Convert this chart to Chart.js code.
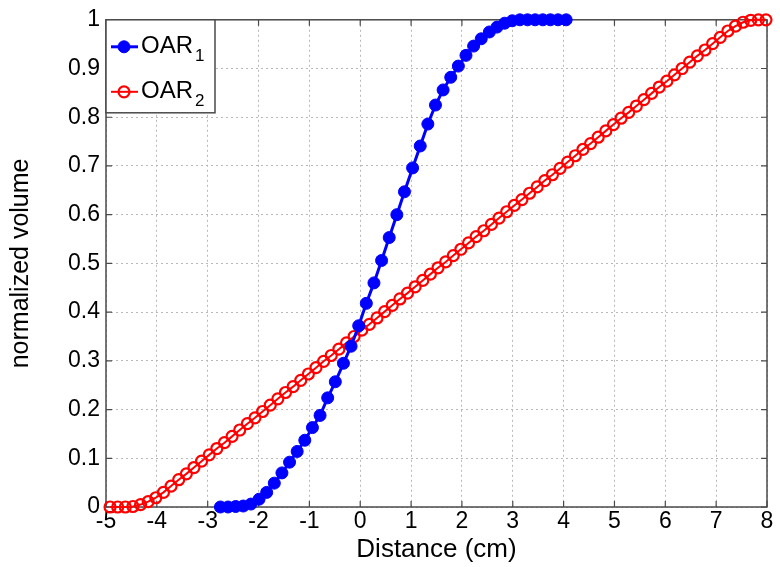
<!DOCTYPE html>
<html>
<head>
<meta charset="utf-8">
<script src="https://cdn.jsdelivr.net/npm/chart.js@4.4.1/dist/chart.umd.min.js"></script>
<style>
  html, body { margin: 0; padding: 0; background: #fff; }
</style>
</head>
<body>
<canvas id="myChart" width="780" height="567"></canvas>
<script>
// tick positions
var xTicks = [-5, -4, -3, -2, -1, 0, 1, 2, 3, 4, 5, 6, 7, 8];
var yTicks = [0, 0.1, 0.2, 0.3, 0.4, 0.5, 0.6, 0.7, 0.8, 0.9, 1];

// legend names (base + subscript)
var seriesBase = ['OAR', 'OAR'];
var seriesSub = ['1', '2'];

// OAR1 (blue, filled dots)
var oar1X = [-2.75, -2.60, -2.45, -2.30, -2.15, -1.99, -1.84, -1.69, -1.54, -1.39,
    -1.24, -1.09, -0.94, -0.79, -0.64, -0.49, -0.33, -0.18, -0.03, 0.12,
    0.27, 0.42, 0.57, 0.72, 0.87, 1.03, 1.18, 1.33, 1.48, 1.63,
    1.78, 1.93, 2.08, 2.23, 2.38, 2.54, 2.69, 2.84, 2.99, 3.14,
    3.29, 3.44, 3.59, 3.74, 3.89, 4.05];
var oar1Y = [0, 0, 0.001, 0.002, 0.006, 0.016, 0.03, 0.049, 0.07, 0.092,
    0.114, 0.137, 0.163, 0.188, 0.224, 0.257, 0.295, 0.33, 0.372, 0.418,
    0.46, 0.506, 0.553, 0.6, 0.647, 0.696, 0.741, 0.786, 0.825, 0.856,
    0.882, 0.905, 0.927, 0.946, 0.961, 0.975, 0.985, 0.993, 0.998, 1,
    1, 1, 1, 1, 1, 1];

// OAR2 (red, open circles)
var oar2X = [-4.92, -4.77, -4.62, -4.47, -4.32, -4.17, -4.02, -3.87, -3.72, -3.57,
    -3.42, -3.27, -3.12, -2.97, -2.82, -2.67, -2.52, -2.37, -2.22, -2.07,
    -1.92, -1.77, -1.62, -1.47, -1.32, -1.17, -1.02, -0.87, -0.72, -0.57,
    -0.42, -0.27, -0.12, 0.03, 0.18, 0.33, 0.48, 0.63, 0.78, 0.93,
    1.08, 1.23, 1.38, 1.53, 1.68, 1.83, 1.98, 2.13, 2.28, 2.43,
    2.58, 2.73, 2.88, 3.03, 3.18, 3.33, 3.48, 3.63, 3.78, 3.93,
    4.08, 4.23, 4.38, 4.53, 4.68, 4.83, 4.98, 5.13, 5.28, 5.43,
    5.58, 5.73, 5.88, 6.03, 6.18, 6.33, 6.48, 6.63, 6.78, 6.93,
    7.08, 7.23, 7.38, 7.53, 7.68, 7.83, 7.98];
var oar2Y = [0, 0, 0, 0.001, 0.005, 0.011, 0.019, 0.030, 0.043, 0.056,
    0.068, 0.081, 0.094, 0.107, 0.120, 0.132, 0.145, 0.158, 0.171, 0.183,
    0.196, 0.209, 0.222, 0.235, 0.247, 0.260, 0.273, 0.286, 0.299, 0.311,
    0.324, 0.337, 0.350, 0.363, 0.375, 0.388, 0.401, 0.414, 0.427, 0.439,
    0.452, 0.465, 0.478, 0.491, 0.503, 0.516, 0.529, 0.542, 0.555, 0.567,
    0.580, 0.593, 0.606, 0.619, 0.631, 0.644, 0.657, 0.670, 0.682, 0.695,
    0.708, 0.721, 0.734, 0.746, 0.759, 0.772, 0.785, 0.798, 0.810, 0.823,
    0.836, 0.849, 0.862, 0.874, 0.887, 0.900, 0.913, 0.926, 0.938, 0.951,
    0.964, 0.977, 0.987, 0.995, 0.999, 1, 1];

function toPoints(xs, ys) {
    return xs.map(function (x, i) { return { x: x, y: ys[i] }; });
}

var FONT = 'Liberation Sans, Arial, Helvetica, sans-serif';
var FRAME = '#4a4a4a';

// box + inward ticks, drawn under the data
var framePlugin = {
    id: 'frame',
    beforeDatasetsDraw: function (chart) {
        var ctx = chart.ctx, a = chart.chartArea;
        var sx = chart.scales.x, sy = chart.scales.y;
        ctx.save();
        ctx.strokeStyle = FRAME;
        ctx.lineWidth = 1.5;
        ctx.strokeRect(a.left, a.top, a.right - a.left, a.bottom - a.top);
        ctx.lineWidth = 1.2;
        ctx.beginPath();
        xTicks.forEach(function (v) {
            var px = sx.getPixelForValue(v);
            ctx.moveTo(px, a.bottom); ctx.lineTo(px, a.bottom - 6);
            ctx.moveTo(px, a.top); ctx.lineTo(px, a.top + 6);
        });
        yTicks.forEach(function (v) {
            var py = sy.getPixelForValue(v);
            ctx.moveTo(a.left, py); ctx.lineTo(a.left + 6, py);
            ctx.moveTo(a.right, py); ctx.lineTo(a.right - 6, py);
        });
        ctx.stroke();
        ctx.restore();
    }
};

// MATLAB-like legend box with subscripts
var legendPlugin = {
    id: 'matlabLegend',
    afterDatasetsDraw: function (chart) {
        var ctx = chart.ctx, a = chart.chartArea;
        var x0 = a.left, y0 = a.top, w = 109, h = 93;
        ctx.save();
        ctx.fillStyle = '#fff';
        ctx.fillRect(x0, y0, w, h);
        ctx.strokeStyle = FRAME;
        ctx.lineWidth = 1.5;
        ctx.strokeRect(x0, y0, w, h);
        chart.data.datasets.forEach(function (ds, i) {
            var cy = y0 + 27 + i * 45;
            ctx.strokeStyle = ds.borderColor;
            ctx.lineWidth = ds.borderWidth;
            ctx.beginPath();
            ctx.moveTo(x0 + 5, cy); ctx.lineTo(x0 + 32, cy);
            ctx.stroke();
            ctx.beginPath();
            ctx.arc(x0 + 18, cy, ds.pointRadius, 0, Math.PI * 2);
            if (ds.pointBackgroundColor !== 'rgba(0,0,0,0)') {
                ctx.fillStyle = ds.pointBackgroundColor;
                ctx.fill();
            }
            ctx.lineWidth = ds.pointBorderWidth;
            ctx.strokeStyle = ds.pointBorderColor;
            ctx.stroke();
            ctx.fillStyle = '#000';
            ctx.textBaseline = 'middle';
            ctx.textAlign = 'left';
            ctx.font = '24px ' + FONT;
            ctx.fillText(seriesBase[i], x0 + 35, cy);
            var bw = ctx.measureText(seriesBase[i]).width;
            ctx.font = '17px ' + FONT;
            ctx.fillText(seriesSub[i], x0 + 37 + bw, cy + 10);
        });
        ctx.restore();
    }
};

var ctx = document.getElementById('myChart').getContext('2d');
var myChart = new Chart(ctx, {
    type: 'line',
    data: {
        datasets: [{
            label: seriesBase[0] + seriesSub[0],
            data: toPoints(oar1X, oar1Y),
            borderColor: '#0000ff',
            borderWidth: 3,
            pointRadius: 6,
            pointBackgroundColor: '#0000ff',
            pointBorderColor: '#0000ff',
            pointBorderWidth: 1,
            clip: false
        }, {
            label: seriesBase[1] + seriesSub[1],
            data: toPoints(oar2X, oar2Y),
            borderColor: '#ff0000',
            borderWidth: 2,
            pointRadius: 5.5,
            pointBackgroundColor: 'rgba(0,0,0,0)',
            pointBorderColor: '#ff0000',
            pointBorderWidth: 2.2,
            clip: false
        }]
    },
    options: {
        responsive: false,
        animation: false,
        layout: { padding: { left: 0, top: 16, right: 13, bottom: 0 } },
        plugins: { legend: { display: false }, tooltip: { enabled: false } },
        scales: {
            x: {
                type: 'linear',
                min: -5, max: 8,
                afterBuildTicks: function (s) { s.ticks = xTicks.map(function (v) { return { value: v }; }); },
                afterFit: function (s) { s.height = 60; },
                grid: { color: '#b8b8b8', lineWidth: 1, drawTicks: false },
                border: { display: false, dash: [2, 3] },
                ticks: { color: '#000', font: { family: FONT, size: 23 }, padding: 1, maxRotation: 0 },
                title: { display: true, text: 'Distance (cm)', color: '#000', font: { family: FONT, size: 26 }, padding: { top: 0, bottom: 2 } }
            },
            y: {
                type: 'linear',
                min: 0, max: 1,
                afterBuildTicks: function (s) { s.ticks = yTicks.map(function (v) { return { value: v }; }); },
                afterFit: function (s) { s.width = 106; },
                grid: { color: '#b8b8b8', lineWidth: 1, drawTicks: false },
                border: { display: false, dash: [2, 3] },
                ticks: { color: '#000', font: { family: FONT, size: 23 }, padding: 6,
                    callback: function (v) { return String(Math.round(v * 10) / 10); } },
                title: { display: true, text: 'normalized volume', color: '#000', font: { family: FONT, size: 25 }, padding: { top: 6, bottom: 0 } }
            }
        }
    },
    plugins: [framePlugin, legendPlugin]
});
</script>
</body>
</html>
